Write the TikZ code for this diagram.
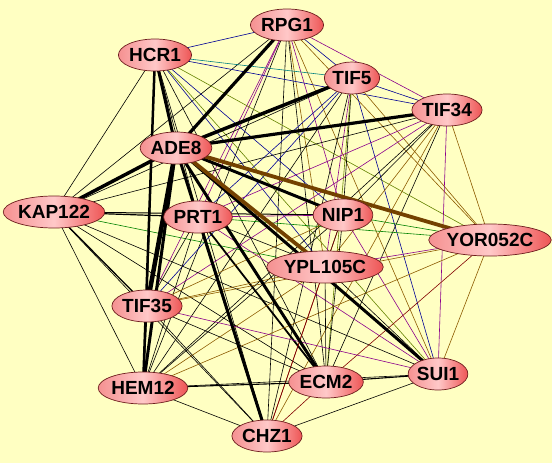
\documentclass[tikz,border=0pt]{standalone}
\usepackage{fontspec}
\setmainfont{Liberation Sans}
\usetikzlibrary{shapes.geometric}
\pgfdeclarelayer{back}
\pgfsetlayers{back,main}
\definecolor{bgc}{RGB}{255,255,194}
\definecolor{cnav}{RGB}{0,0,150}
\definecolor{cpur}{RGB}{140,0,140}
\definecolor{cbr}{RGB}{140,90,0}
\definecolor{cbrk}{RGB}{115,65,0}
\definecolor{col}{RGB}{100,130,0}
\definecolor{cgr}{RGB}{0,130,0}
\definecolor{ctl}{RGB}{0,128,128}
\definecolor{cdr}{RGB}{130,0,0}
\definecolor{nL}{RGB}{245,145,145}
\definecolor{nM}{RGB}{255,200,200}
\definecolor{nR}{RGB}{238,85,85}
\definecolor{nB}{RGB}{110,30,30}
\tikzset{
  nd/.style={ellipse, draw=nB, line width=0.7pt, left color=nL, right color=nR, middle color=nM,
    inner sep=0pt, minimum height=32pt, minimum width=#1, font=\bfseries\fontsize{19}{19}\selectfont},
  ek/.style={black, line width=0.6pt},
  nv/.style={cnav, line width=0.6pt},
  pu/.style={cpur, line width=0.6pt},
  br/.style={cbr, line width=0.6pt},
  ol/.style={col, line width=0.6pt},
  gr/.style={cgr, line width=0.6pt},
  tl/.style={ctl, line width=0.6pt},
  dr/.style={cdr, line width=0.6pt},
  tk/.style={black, line width=#1},
  tb/.style={cbrk, line width=#1},
}
\begin{document}
\begin{tikzpicture}[x=1pt,y=-1pt]
\useasboundingbox (0,0) rectangle (552,463);
\node[nd=66pt] (rpg) at (287,25) {RPG1};
\node[nd=64pt] (hcr) at (155,55) {HCR1};
\node[nd=54pt] (tf5) at (352,78) {TIF5};
\node[nd=64pt] (t34) at (447,110) {TIF34};
\node[nd=62pt] (ade) at (176,148) {ADE8};
\node[nd=84pt] (kap) at (54,212) {KAP122};
\node[nd=62pt] (prt) at (198,217) {PRT1};
\node[nd=54pt] (nip) at (343,215) {NIP1};
\node[nd=100pt] (yor) at (490,240) {YOR052C};
\node[nd=96pt] (ypl) at (325,267) {YPL105C};
\node[nd=64pt] (t35) at (147,306) {TIF35};
\node[nd=76pt] (hem) at (143,388) {HEM12};
\node[nd=66pt] (ecm) at (326,382) {ECM2};
\node[nd=54pt] (sui) at (438,374) {SUI1};
\node[nd=60pt] (chz) at (267,436) {CHZ1};
\begin{pgfonlayer}{back}
\fill[bgc] (0,0) rectangle (552,463);
% RPG1
\draw[nv] (rpg.center) -- (hcr.center);
\draw[nv] (rpg.center) -- (tf5.center);
\draw[pu] (rpg.center) -- (t34.center);
\draw[ek] (rpg.center) -- (kap.center);
\draw[pu] (rpg.center) -- (prt.center);
\draw[pu] (rpg.center) -- (nip.center);
\draw[br] (rpg.center) -- (yor.center);
\draw[br] (rpg.center) -- (ypl.center);
\draw[pu] (rpg.center) -- (t35.center);
\draw[ek] (rpg.center) -- (hem.center);
\draw[ek] (rpg.center) -- (ecm.center);
\draw[br] (rpg.center) -- (sui.center);
\draw[ek] (rpg.center) -- (chz.center);
% HCR1
\draw[tl] (hcr.center) -- (tf5.center);
\draw[nv] (hcr.center) -- (t34.center);
\draw[ek] (hcr.center) -- (kap.center);
\draw[ek] (hcr.center) -- (prt.center);
\draw[nv] (hcr.center) -- (nip.center);
\draw[ol] (hcr.center) -- (yor.center);
\draw[nv] (hcr.center) -- (ypl.center);
\draw[ek] (hcr.center) -- (t35.center);
\draw[ek] (hcr.center) -- (ecm.center);
\draw[ol] (hcr.center) -- (sui.center);
\draw[ek] (hcr.center) -- (chz.center);
% TIF5
\draw[nv] (tf5.center) -- (t34.center);
\draw[ek] (tf5.center) -- (kap.center);
\draw[nv] (tf5.center) -- (prt.center);
\draw[ek] (tf5.center) -- (nip.center);
\draw[br] (tf5.center) -- (yor.center);
\draw[pu] (tf5.center) -- (ypl.center);
\draw[nv] (tf5.center) -- (t35.center);
\draw[ek] (tf5.center) -- (hem.center);
\draw[ol] (tf5.center) -- (ecm.center);
\draw[nv] (tf5.center) -- (sui.center);
\draw[ek] (tf5.center) -- (chz.center);
% TIF34
\draw[ek] (t34.center) -- (kap.center);
\draw[pu] (t34.center) -- (prt.center);
\draw[ek] (t34.center) -- (nip.center);
\draw[br] (t34.center) -- (yor.center);
\draw[br] (t34.center) -- (ypl.center);
\draw[pu] (t34.center) -- (t35.center);
\draw[ek] (t34.center) -- (hem.center);
\draw[ek] (t34.center) -- (ecm.center);
\draw[pu] (t34.center) -- (sui.center);
\draw[br] (t34.center) -- (chz.center);
% KAP122
\draw[tk=1.2pt] (kap.center) -- (prt.center);
\draw[tk=1pt] (kap.center) -- (nip.center);
\draw[gr] (kap.center) -- (ypl.center);
\draw[tk=1.3pt] (kap.center) -- (t35.center);
\draw[ek] (kap.center) -- (hem.center);
\draw[ek] (kap.center) -- (ecm.center);
\draw[ek] (kap.center) -- (sui.center);
\draw[ek] (kap.center) -- (chz.center);
% PRT1
\draw[pu] (prt.center) -- (nip.center);
\draw[gr] (prt.center) -- (yor.center);
\draw[ek] (prt.center) -- (ypl.center);
\draw[ek] (prt.center) -- (t35.center);
\draw[ek] (prt.center) -- (hem.center);
\draw[tk=1.8pt] (prt.center) -- (ecm.center);
\draw[pu] (prt.center) -- (sui.center);
\draw[tk=2.2pt] (prt.center) -- (chz.center);
% NIP1
\draw[gr] (nip.center) -- (yor.center);
\draw[ek] (nip.center) -- (ypl.center);
\draw[br] (nip.center) -- (t35.center);
\draw[ek] (nip.center) -- (hem.center);
\draw[ek] (nip.center) -- (ecm.center);
\draw[pu] (nip.center) -- (sui.center);
\draw[dr] (nip.center) -- (chz.center);
% YOR052C
\draw[pu] (yor.center) -- (ypl.center);
\draw[br] (yor.center) -- (t35.center);
\draw[br] (yor.center) -- (hem.center);
\draw[dr] (yor.center) -- (ecm.center);
\draw[br] (yor.center) -- (sui.center);
% YPL105C
\draw[br] (ypl.center) -- (t35.center);
\draw[br] (ypl.center) -- (hem.center);
\draw[ek] (ypl.center) -- (ecm.center);
\draw[ek] (ypl.center) -- (sui.center);
\draw[dr] (ypl.center) -- (chz.center);
% TIF35
\draw[tk=1.5pt] (t35.center) -- (hem.center);
\draw[ek] (t35.center) -- (ecm.center);
\draw[pu] (t35.center) -- (sui.center);
\draw[ek] (t35.center) -- (chz.center);
% HEM12 / ECM2 / SUI1
\draw[tk=1.1pt] (hem.center) -- (ecm.center);
\draw[ek] (hem.center) -- (sui.center);
\draw[ek] (hem.center) -- (chz.center);
\draw[tk=1.1pt] (ecm.center) -- (sui.center);
\draw[dr] (ecm.center) -- (chz.center);
\draw[ek] (sui.center) -- (chz.center);
% thick edges
\draw[tk=2.5pt] (hcr.center) -- (hem.center);
\draw[tk=3pt] (ade.center) -- (hcr.center);
\draw[tk=3.2pt] (ade.center) -- (rpg.center);
\draw[tk=3.5pt] (ade.center) -- (tf5.center);
\draw[tk=3.2pt] (ade.center) -- (t34.center);
\draw[tk=3.5pt] (ade.center) -- (kap.center);
\draw[tk=1pt] (ade.center) -- (prt.center);
\draw[tk=3pt] (ade.center) -- (nip.center);
\draw[tk=4.5pt] (ade.center) -- (t35.center);
\draw[tk=3pt] (ade.center) -- (hem.center);
\draw[tk=3pt] (ade.center) -- (ecm.center);
\draw[tk=3pt] (ade.center) -- (sui.center);
\draw[tk=3pt] (ade.center) -- (chz.center);
\draw[tb=3.8pt] (ade.center) -- (yor.center);
\draw[tb=3.8pt] (ade.center) -- (ypl.center);
\end{pgfonlayer}
\end{tikzpicture}
\end{document}
